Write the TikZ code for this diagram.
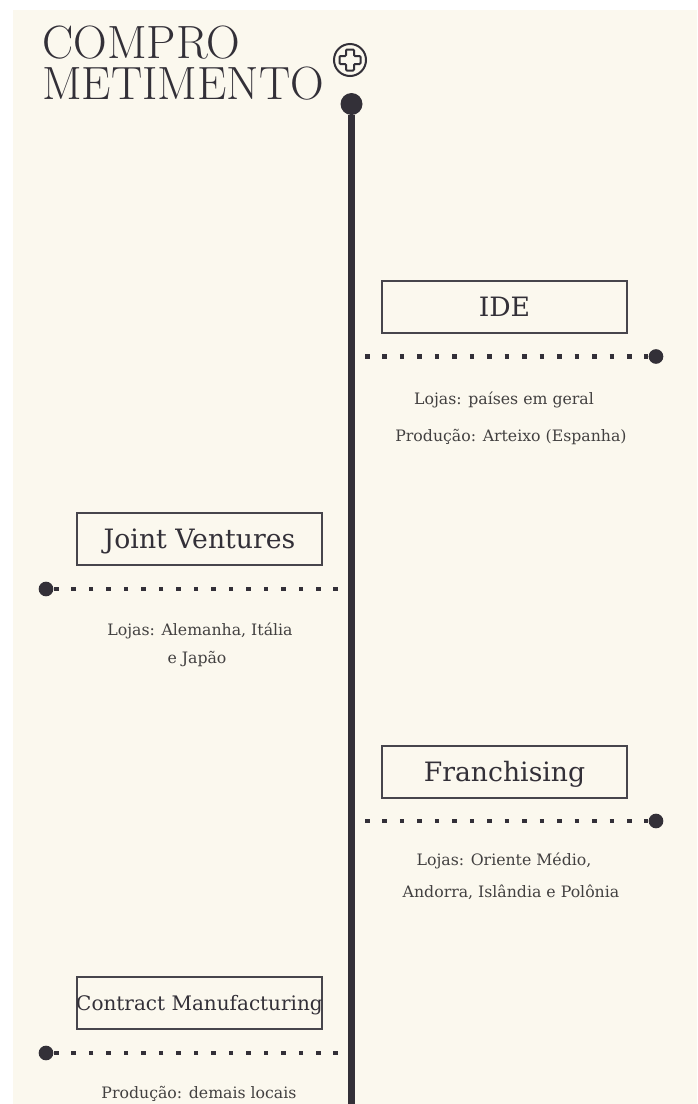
\documentclass[tikz,border=0pt]{standalone}
\usepackage{fontspec}
\newfontfamily\serifbody{DejaVu Serif}
\definecolor{cream}{HTML}{FBF8EE}
\definecolor{ink}{HTML}{333038}
\definecolor{notegray}{HTML}{424040}

\begin{document}
\begin{tikzpicture}[x=0.75pt,y=-0.75pt,
  title/.style={anchor=south west, inner sep=0pt, align=left, text=ink, font=\fontsize{35}{31}\selectfont, text depth=0pt},
  box/.style={draw=ink!90, line width=1.5pt, minimum width=183.75pt, minimum height=39pt, inner sep=0pt, text=ink, font=\serifbody\fontsize{20}{24}\selectfont, text height=14.6pt, text depth=0pt},
  note/.style={anchor=base, inner sep=0pt, text=notegray, font=\serifbody\fontsize{11.8}{14}\selectfont},
  bigdot/.style={circle, fill=ink, inner sep=0pt, minimum size=11pt},
  dots/.style={draw=ink, line width=3.4pt, dash pattern=on 3.4pt off 9.7pt}]
\useasboundingbox (0,0) rectangle (697,1104);
\fill[white] (0,0) rectangle (697,1104);
\fill[cream] (13,10) rectangle (697,1104); % panel
\node[title] (T) at (42,100) {COMPRO\\METIMENTO};
\node[circle, draw=ink, line width=1.5pt, minimum size=24pt, inner sep=0pt] (P) at (350,60) {};
\draw[ink, line width=1.5pt, rounded corners=0.8pt, shift={(P)}] (4,10.5) -- (4,4) -- (10.5,4) -- (10.5,-4) -- (4,-4) -- (4,-10.5) -- (-4,-10.5) -- (-4,-4) -- (-10.5,-4) -- (-10.5,4) -- (-4,4) -- (-4,10.5) -- cycle; % plus sign
\node[circle, fill=ink, inner sep=0pt, minimum size=16.5pt] (TOP) at (351.5,104) {};
\coordinate (BOT) at (351.5,1104);
\draw[ink, line width=5.25pt] (TOP) -- (BOT); % time line
\node[box] (IDE) at (504.5,306.5) {IDE};
\node[box] (JV) at (199.5,538.5) {Joint Ventures};
\node[box] (FR) at (504.5,771.5) {Franchising};
\node[box, font=\serifbody\fontsize{15}{18}\selectfont, text height=11pt] (CM) at (199.5,1003) {\makebox[0pt]{Contract Manufacturing}};
\node[bigdot] (D1) at (656,356.5) {};
\node[bigdot] (D2) at (46,589) {};
\node[bigdot] (D3) at (656,821) {};
\node[bigdot] (D4) at (46,1053) {};
\coordinate (S1) at (365,356.5);
\coordinate (S2) at (338,589);
\coordinate (S3) at (365,821);
\coordinate (S4) at (338,1053);
\draw[dots] (S1) -- (D1); % dotted ticks
\draw[dots] (S2) -- (D2);
\draw[dots] (S3) -- (D3);
\draw[dots] (S4) -- (D4);
\node[note] (N1) at (504,404) {Lojas: países em geral};
\node[note] (N2) at (511,441) {Produção: Arteixo (Espanha)};
\node[note] (N3) at (200,635) {Lojas: Alemanha, Itália};
\node[note] (N4) at (197,663) {e Japão};
\node[note] (N5) at (504,865) {Lojas: Oriente Médio,};
\node[note] (N6) at (511,897) {Andorra, Islândia e Polônia};
\node[note] (N7) at (199,1098) {Produção: demais locais};
\end{tikzpicture}
\end{document}
